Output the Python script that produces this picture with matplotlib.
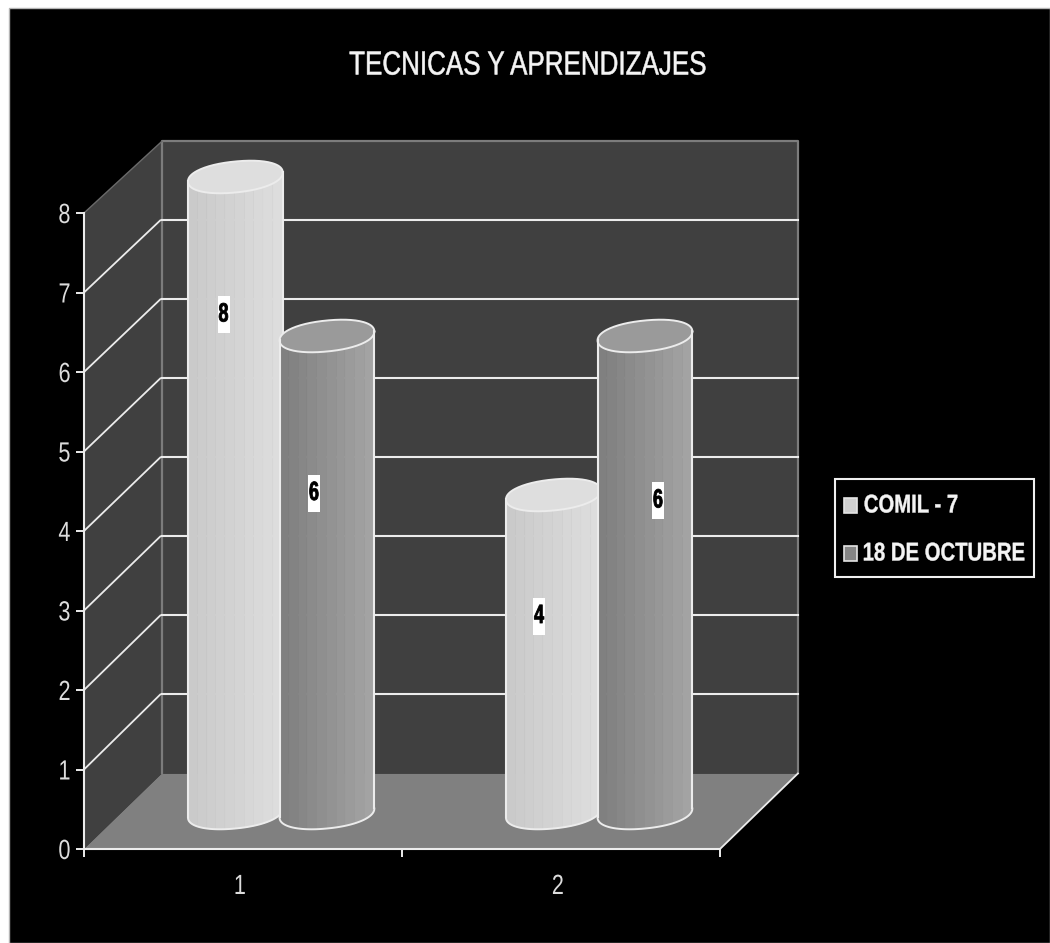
"""TECNICAS Y APRENDIZAJES - 3D style cylinder chart on black background."""
import numpy as np
import matplotlib
matplotlib.use('Agg')
import matplotlib.pyplot as plt
from matplotlib.patches import Rectangle
from matplotlib.patheffects import AbstractPathEffect
from matplotlib.transforms import Affine2D

plt.rcParams['font.family'] = ['Liberation Sans', 'DejaVu Sans']

TITLE = "TECNICAS Y APRENDIZAJES"
CATEGORIES = ["1", "2"]
SERIES_NAMES = ["COMIL - 7", "18 DE OCTUBRE"]
COMIL = [8, 4]
OCTUBRE = [6, 6]
Y_TICKS = [0, 1, 2, 3, 4, 5, 6, 7, 8]

W, H = 1050, 943
# pixel box of the front plane
AX_L, AX_R, AX_T, AX_B = 84, 720, 213, 849

# depth of the fake 3D box, in data units
DEPTH_X = 0.245
BASE = 0.453        # cylinder base centre sits this far above 0
HALF_W = 0.149
ELL_B = 15.5 / 79.5
ELL_TILT = 4.5 / 79.5
ROUND = 0.93        # under 1 makes the ellipse a bit boxy like the original
GROUP_SHIFT = 0.12
BAR_SHIFT = 0.144

LINE = '#ececec'
EDGE_GREY = '#7c7c7c'
WALL = '#404040'
FLOOR = '#808080'


class Narrow(AbstractPathEffect):
    # squeezes text sideways, there is no condensed font installed
    def __init__(self, sx, stroke=0.0):
        super().__init__()
        self.sx = sx
        self.stroke = stroke

    def draw_path(self, renderer, gc, tpath, affine, rgbFace=None):
        box = tpath.get_extents(affine)
        x0 = box.x0 + 0.5 * box.width
        squeeze = Affine2D().translate(-x0, 0).scale(self.sx, 1).translate(x0, 0)
        gc0 = renderer.new_gc()
        gc0.copy_properties(gc)
        gc0.set_linewidth(self.stroke)
        gc0.set_foreground(rgbFace)
        renderer.draw_path(gc0, tpath, affine + squeeze, rgbFace)
        gc0.restore()


def back_y(v):
    return 0.95 + 0.994 * v


def boxy(t):
    return np.sign(np.cos(t)) * np.abs(np.cos(t)) ** ROUND, np.sign(np.sin(t)) * np.abs(np.sin(t)) ** ROUND


def cylinder(ax, cx, value, shades, top_color, zorder):
    t = np.linspace(0, np.pi, 120)
    c, s = boxy(t)
    xs = cx + HALF_W * c
    lower = -ELL_B * s + ELL_TILT * c
    # one polygon per shade band, right side is lightest
    bands = ((1 - c) / 2 * (len(shades) - 0.01)).astype(int)
    for b, shade in enumerate(shades):
        idx = np.where(bands == b)[0]
        if len(idx) == 0:
            continue
        idx = np.append(idx, min(idx[-1] + 1, len(t) - 1))
        px = np.r_[xs[idx], xs[idx][::-1]]
        py = np.r_[BASE + lower[idx], BASE + value + lower[idx][::-1]]
        ax.fill(px, py, color=shade, lw=0.5, zorder=zorder, clip_on=False)
    tt = np.linspace(0, 2 * np.pi, 160)
    c2, s2 = boxy(tt)
    ex = cx + HALF_W * c2
    ey = BASE + value + ELL_TILT * c2 + ELL_B * s2
    ax.fill(ex, ey, color=top_color, lw=0, zorder=zorder + 0.1, clip_on=False)
    ax.plot(ex, ey, color=LINE, lw=1.4, zorder=zorder + 0.2, clip_on=False)
    ax.plot(xs, BASE + lower, color=LINE, lw=1.4, zorder=zorder + 0.2, clip_on=False)
    for side in (0, -1):
        ax.plot([xs[side], xs[side]], [BASE + lower[side], BASE + value + lower[side]],
                color=LINE, lw=1.5, zorder=zorder + 0.2, clip_on=False)


fig = plt.figure(figsize=(W / 100, H / 100), dpi=100, facecolor='white')
pix = Affine2D().scale(1 / W, -1 / H).translate(0, 1) + fig.transFigure

fig.add_artist(Rectangle((9, 8), W - 9, H - 8, transform=pix, facecolor='black',
                         edgecolor='#b4b4b4', lw=1.0, zorder=-1))

ax = fig.add_axes([AX_L / W, 1 - AX_B / H, (AX_R - AX_L) / W, (AX_B - AX_T) / H])
ax.patch.set_alpha(0)
ax.set_xlim(0, 2)
ax.set_ylim(0, 8)

# walls and floor
ax.fill([DEPTH_X, 2 + DEPTH_X, 2 + DEPTH_X, DEPTH_X],
        [back_y(0), back_y(0), back_y(8), back_y(8)], color=WALL, lw=0, zorder=1, clip_on=False)
ax.fill([0, DEPTH_X, DEPTH_X, 0], [0, back_y(0), back_y(8), 8], color=WALL, lw=0, zorder=1, clip_on=False)
ax.fill([0, 2, 2 + DEPTH_X, DEPTH_X], [0, 0, back_y(0), back_y(0)], color=FLOOR, lw=0, zorder=1.1, clip_on=False)

# box edges
ax.plot([DEPTH_X, DEPTH_X, 2 + DEPTH_X, 2 + DEPTH_X],
        [back_y(0), back_y(8), back_y(8), back_y(0)], color=EDGE_GREY, lw=1.6, zorder=1.5, clip_on=False)
ax.plot([0, DEPTH_X], [8, back_y(8)], color='#6a6a6a', lw=1.0, zorder=1.5, clip_on=False)
ax.plot([2, 2 + DEPTH_X], [0, back_y(0)], color=LINE, lw=1.3, zorder=2, clip_on=False)

# grid on side wall and back wall
for v in Y_TICKS[1:-1]:
    ax.plot([0, DEPTH_X - 0.005], [v, back_y(v)], color=LINE, lw=1.3, zorder=2, clip_on=False)
    ax.plot([DEPTH_X, 2 + DEPTH_X], [back_y(v), back_y(v)], color=LINE, lw=1.5, zorder=2, clip_on=False)

shades_a = [plt.cm.gray(g) for g in np.linspace(0.865, 0.79, 10)]
shades_b = [plt.cm.gray(g) for g in np.linspace(0.64, 0.50, 10)]

for i, (a, b) in enumerate(zip(COMIL, OCTUBRE)):
    centre = i + 0.5 + GROUP_SHIFT
    cylinder(ax, centre - BAR_SHIFT, a, shades_a, '#dedede', 3 + i)
    cylinder(ax, centre + BAR_SHIFT, b, shades_b, '#9a9a9a', 3.5 + i)

# axes
for s in ('top', 'right'):
    ax.spines[s].set_visible(False)
for s in ('left', 'bottom'):
    ax.spines[s].set_color(LINE)
    ax.spines[s].set_linewidth(1.5)
    ax.spines[s].set_zorder(2.5)
ax.set_yticks(Y_TICKS)
ax.set_xticks([0, 1, 2])
ax.set_xticklabels([])
ax.set_xticks([0.49, 1.49], labels=CATEGORIES, minor=True)
ax.tick_params(axis='both', which='major', color=LINE, width=1.4, length=5.5)
ax.tick_params(axis='y', labelsize=20, labelcolor='#dcdcdc', pad=3)
ax.tick_params(axis='x', which='minor', length=0, labelsize=20, labelcolor='#dcdcdc', pad=18)
for lab in ax.get_yticklabels() + ax.get_xticklabels(minor=True):
    lab.set_path_effects([Narrow(0.78)])

# title
fig.text(528, 66, TITLE, transform=pix, color='#f4f4f4', fontsize=24, ha='center', va='center',
         path_effects=[Narrow(0.78, stroke=0.4)])

# value labels, sit on small white boxes like the original
label_pos = [(223.5, 314.5), (314, 493), (539, 616), (658, 500.5)]
label_vals = [COMIL[0], OCTUBRE[0], COMIL[1], OCTUBRE[1]]
for (lx, ly), val in zip(label_pos, label_vals):
    fig.add_artist(Rectangle((lx - 6, ly - 18.5), 12, 37, transform=pix, facecolor='white', lw=0, zorder=5))
    fig.text(lx, ly, str(val), transform=pix, color='black', fontsize=19, fontweight='bold',
             ha='center', va='center', zorder=6, path_effects=[Narrow(0.68, stroke=0.6)])

# legend
fig.add_artist(Rectangle((835, 479), 199, 98, transform=pix, facecolor='black',
                         edgecolor='#f0f0f0', lw=1.5, zorder=5))
legend_y = [505.5, 553.5]
legend_x = [911, 944]
legend_cols = ['#cfcfcf', '#858585']
for y, x, name, col in zip(legend_y, legend_x, SERIES_NAMES, legend_cols):
    fig.add_artist(Rectangle((844, y - 7.5), 13, 15, transform=pix, facecolor=col,
                             edgecolor='#e4e4e4', lw=1.2, zorder=6))
    fig.text(x, y, name, transform=pix, color='#f4f4f4', fontsize=18.5, fontweight='bold',
             ha='center', va='center', zorder=6, path_effects=[Narrow(0.79, stroke=0.3)])

fig.savefig('out.png', dpi=100, facecolor='white')
